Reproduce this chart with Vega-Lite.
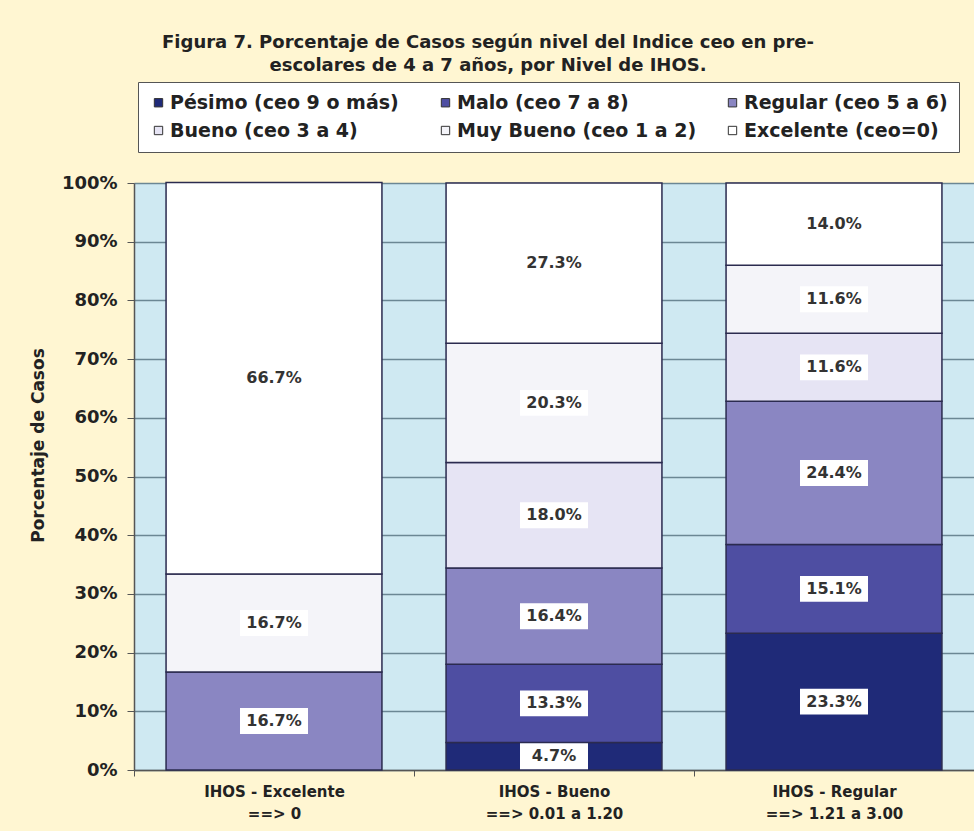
{
  "$schema": "https://vega.github.io/schema/vega-lite/v6.json",
  "width": 840,
  "height": 587,
  "autosize": {"type": "none"},
  "padding": {"left": 134, "top": 183, "right": 0, "bottom": 61},
  "background": "#FFF6D2",
  "config": {
    "view": {"fill": "#CFE9F2", "stroke": null},
    "font": "DejaVu Sans"
  },
  "title": {
    "text": ["Figura 7.  Porcentaje de Casos según nivel del Indice ceo en pre-", "escolares de 4 a 7 años, por Nivel de IHOS."],
    "anchor": "middle",
    "align": "center",
    "dx": -66,
    "offset": 7,
    "font": "DejaVu Sans",
    "fontSize": 18,
    "fontWeight": "bold",
    "color": "#222222",
    "lineHeight": 23
  },
  "data": {
    "values": [
      {"ihos": "IHOS - Excelente|==> 0", "level": "Regular (ceo 5 a 6)", "ord": 3, "pct": 16.7},
      {"ihos": "IHOS - Excelente|==> 0", "level": "Muy Bueno (ceo 1 a 2)", "ord": 5, "pct": 16.7},
      {"ihos": "IHOS - Excelente|==> 0", "level": "Excelente (ceo=0)", "ord": 6, "pct": 66.7},
      {"ihos": "IHOS - Bueno|==> 0.01 a 1.20", "level": "Pésimo (ceo 9 o más)", "ord": 1, "pct": 4.7},
      {"ihos": "IHOS - Bueno|==> 0.01 a 1.20", "level": "Malo (ceo 7 a 8)", "ord": 2, "pct": 13.3},
      {"ihos": "IHOS - Bueno|==> 0.01 a 1.20", "level": "Regular (ceo 5 a 6)", "ord": 3, "pct": 16.4},
      {"ihos": "IHOS - Bueno|==> 0.01 a 1.20", "level": "Bueno (ceo 3 a 4)", "ord": 4, "pct": 18.0},
      {"ihos": "IHOS - Bueno|==> 0.01 a 1.20", "level": "Muy Bueno (ceo 1 a 2)", "ord": 5, "pct": 20.3},
      {"ihos": "IHOS - Bueno|==> 0.01 a 1.20", "level": "Excelente (ceo=0)", "ord": 6, "pct": 27.3},
      {"ihos": "IHOS - Regular|==> 1.21 a 3.00", "level": "Pésimo (ceo 9 o más)", "ord": 1, "pct": 23.3},
      {"ihos": "IHOS - Regular|==> 1.21 a 3.00", "level": "Malo (ceo 7 a 8)", "ord": 2, "pct": 15.1},
      {"ihos": "IHOS - Regular|==> 1.21 a 3.00", "level": "Regular (ceo 5 a 6)", "ord": 3, "pct": 24.4},
      {"ihos": "IHOS - Regular|==> 1.21 a 3.00", "level": "Bueno (ceo 3 a 4)", "ord": 4, "pct": 11.6},
      {"ihos": "IHOS - Regular|==> 1.21 a 3.00", "level": "Muy Bueno (ceo 1 a 2)", "ord": 5, "pct": 11.6},
      {"ihos": "IHOS - Regular|==> 1.21 a 3.00", "level": "Excelente (ceo=0)", "ord": 6, "pct": 14.0}
    ]
  },
  "transform": [
    {"stack": "pct", "groupby": ["ihos"], "sort": [{"field": "ord", "order": "ascending"}], "as": ["y0", "y1"]},
    {"calculate": "(datum.y0 + datum.y1) / 2", "as": "ymid"},
    {"calculate": "format(datum.pct, '.1f') + '%'", "as": "lbl"}
  ],
  "encoding": {
    "x": {
      "field": "ihos",
      "type": "nominal",
      "sort": ["IHOS - Excelente|==> 0", "IHOS - Bueno|==> 0.01 a 1.20", "IHOS - Regular|==> 1.21 a 3.00"],
      "scale": {"paddingInner": 0, "paddingOuter": 0},
      "axis": {
        "title": null,
        "labelExpr": "isValid(datum.value) ? split(datum.value, '|') : ''",
        "labelAngle": 0,
        "labelFont": "DejaVu Sans",
        "labelFontSize": 15,
        "labelFontWeight": "bold",
        "labelColor": "#222222",
        "labelPadding": 8,
        "labelLineHeight": 22,
        "tickBand": "extent",
        "tickSize": 6,
        "tickColor": "#555555",
        "domainColor": "#555555",
        "domainWidth": 1.5,
        "grid": false
      }
    }
  },
  "layer": [
    {
      "mark": {"type": "bar", "width": {"band": 0.771}, "stroke": "#2B2B4F", "strokeWidth": 1.5},
      "encoding": {
        "y": {
          "field": "y0",
          "type": "quantitative",
          "scale": {"domain": [0, 100]},
          "axis": {
            "values": [0, 10, 20, 30, 40, 50, 60, 70, 80, 90, 100],
            "labelExpr": "datum.value + '%'",
            "title": "Porcentaje de Casos",
            "titleFont": "DejaVu Sans",
            "titleFontSize": 17,
            "titleFontWeight": "bold",
            "titleColor": "#222222",
            "titlePadding": 14,
            "titleY": 262,
            "labelFont": "DejaVu Sans",
            "labelFontSize": 18,
            "labelFontWeight": "bold",
            "labelColor": "#222222",
            "labelPadding": 10,
            "tickSize": 7,
            "tickColor": "#555555",
            "domainColor": "#555555",
            "domainWidth": 1.5,
            "grid": true,
            "gridColor": "#6B8794",
            "gridWidth": 1.5
          }
        },
        "y2": {"field": "y1"},
        "fill": {
          "field": "level",
          "type": "nominal",
          "scale": {
            "domain": ["Pésimo (ceo 9 o más)", "Malo (ceo 7 a 8)", "Regular (ceo 5 a 6)", "Bueno (ceo 3 a 4)", "Muy Bueno (ceo 1 a 2)", "Excelente (ceo=0)"],
            "range": ["#1F2A78", "#4E4EA2", "#8A86C2", "#E6E4F4", "#F4F4F9", "#FFFFFF"]
          },
          "legend": {
            "orient": "none",
            "legendX": 4,
            "legendY": -101,
            "direction": "horizontal",
            "columns": 3,
            "title": null,
            "fillColor": "#FFFFFF",
            "strokeColor": "#555555",
            "padding": 11,
            "symbolType": "square",
            "symbolSize": 70,
            "symbolStrokeColor": "#333333",
            "symbolStrokeWidth": 1,
            "labelFont": "DejaVu Sans",
            "labelFontWeight": "bold",
            "labelFontSize": 19,
            "labelColor": "#222222",
            "columnPadding": 26,
            "rowPadding": 8,
            "gridAlign": "all",
            "labelLimit": 400,
            "labelOffset": 2
          }
        }
      }
    },
    {
      "mark": {"type": "point", "shape": "M-1,-0.38H1V0.38H-1Z", "filled": true, "color": "#FFFFFF", "opacity": 1, "size": 4624, "strokeWidth": 0},
      "encoding": {"y": {"field": "ymid", "type": "quantitative"}}
    },
    {
      "mark": {"type": "text", "font": "DejaVu Sans", "fontSize": 16, "fontWeight": "bold", "color": "#333333", "baseline": "middle", "align": "center"},
      "encoding": {"y": {"field": "ymid", "type": "quantitative"}, "text": {"field": "lbl"}}
    }
  ]
}
